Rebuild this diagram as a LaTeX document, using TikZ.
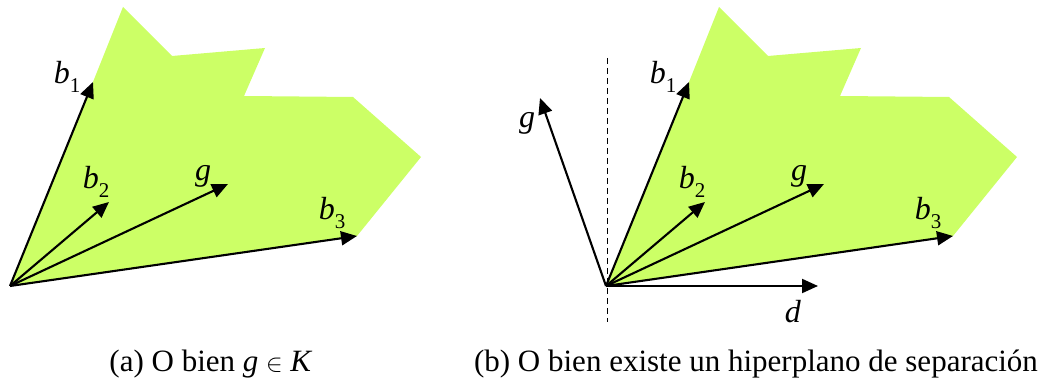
\documentclass[tikz,border=0pt]{standalone}
\usepackage{fontspec}
\setmainfont{Liberation Serif}
\usetikzlibrary{arrows.meta}
\definecolor{conegreen}{RGB}{204,255,102}
\newcommand{\lowidx}[1]{\raisebox{-0.3em}{\fontsize{21}{21}\selectfont #1}}

\begin{document}
\begin{tikzpicture}[
    x=1pt,
    y=1pt,
    line join=miter,
    cone/.style={
        fill=conegreen
    },
    vec/.style={
        line width=2.1pt,
        -{Triangle[length=16pt,width=14pt]}
    },
    sepline/.style={
        line width=0.9pt,
        dashed,
        dash pattern=on 6pt off 4pt
    },
    lbl/.style={
        font=\fontsize{32}{36}\selectfont,
        inner sep=0pt
    },
    caption/.style={
        font=\fontsize{31}{36}\selectfont,
        inner sep=0pt,
        anchor=base
    }
]

\useasboundingbox (0,0) rectangle (1046,382);

% =================================================
% (a) Left panel: g lies in the cone K
% =================================================

\coordinate (Oa)  at (10,96);
\coordinate (b1a) at (93,300);
\coordinate (b2a) at (109,180);
\coordinate (b3a) at (357,146);
\coordinate (ga)  at (228,198);

% The cone K
\fill[cone] (Oa)--(b1a)--(123,375)--(172,326)--(265,334)--(244,286)
    --(353,285)--(421,225)--(b3a)--cycle;

% Generators and g
\draw[vec] (Oa)--(b1a);
\draw[vec] (Oa)--(b2a);
\draw[vec] (Oa)--(ga);
\draw[vec] (Oa)--(b3a);

% Labels
\node[lbl] (lb1a) at (67,305) {\textit{b}\lowidx{1}};
\node[lbl] (lb2a) at (96,200) {\textit{b}\lowidx{2}};
\node[lbl] (lga)  at (203,206) {\textit{g}};
\node[lbl] (lb3a) at (332,169) {\textit{b}\lowidx{3}};

% =================================================
% (b) Right panel: separating hyperplane
% =================================================

\coordinate (Ob)  at (606,96);
\coordinate (b1b) at (689,300);
\coordinate (b2b) at (705,180);
\coordinate (b3b) at (953,146);
\coordinate (gb)  at (824,198);
\coordinate (gout) at (540,284);
\coordinate (db)  at (818,96);

\coordinate (hTop) at (607,324);
\coordinate (hBot) at (607,60);

% The cone K
\fill[cone] (Ob)--(b1b)--(719,375)--(768,326)--(861,334)--(840,286)
    --(949,285)--(1017,225)--(b3b)--cycle;

% Hyperplane
\draw[sepline] (hTop)--(hBot);

% Generators, g inside and outside, normal d
\draw[vec] (Ob)--(b1b);
\draw[vec] (Ob)--(b2b);
\draw[vec] (Ob)--(gb);
\draw[vec] (Ob)--(b3b);
\draw[vec] (Ob)--(gout);
\draw[vec] (Ob)--(db);

% Labels
\node[lbl] (lb1b) at (663,305) {\textit{b}\lowidx{1}};
\node[lbl] (lb2b) at (692,200) {\textit{b}\lowidx{2}};
\node[lbl] (lgb)  at (799,206) {\textit{g}};
\node[lbl] (lb3b) at (928,169) {\textit{b}\lowidx{3}};
\node[lbl] (lgout) at (527,259) {\textit{g}};
\node[lbl] (ldb)  at (793,70) {\textit{d}};

% =================================================
% Captions
% =================================================

\node[caption] (capa) at (211,10) {(a) O bien \textit{g} $\in$ \textit{K}};
\node[caption] (capb) at (756,10) {(b) O bien existe un hiperplano de separación};

\end{tikzpicture}
\end{document}
